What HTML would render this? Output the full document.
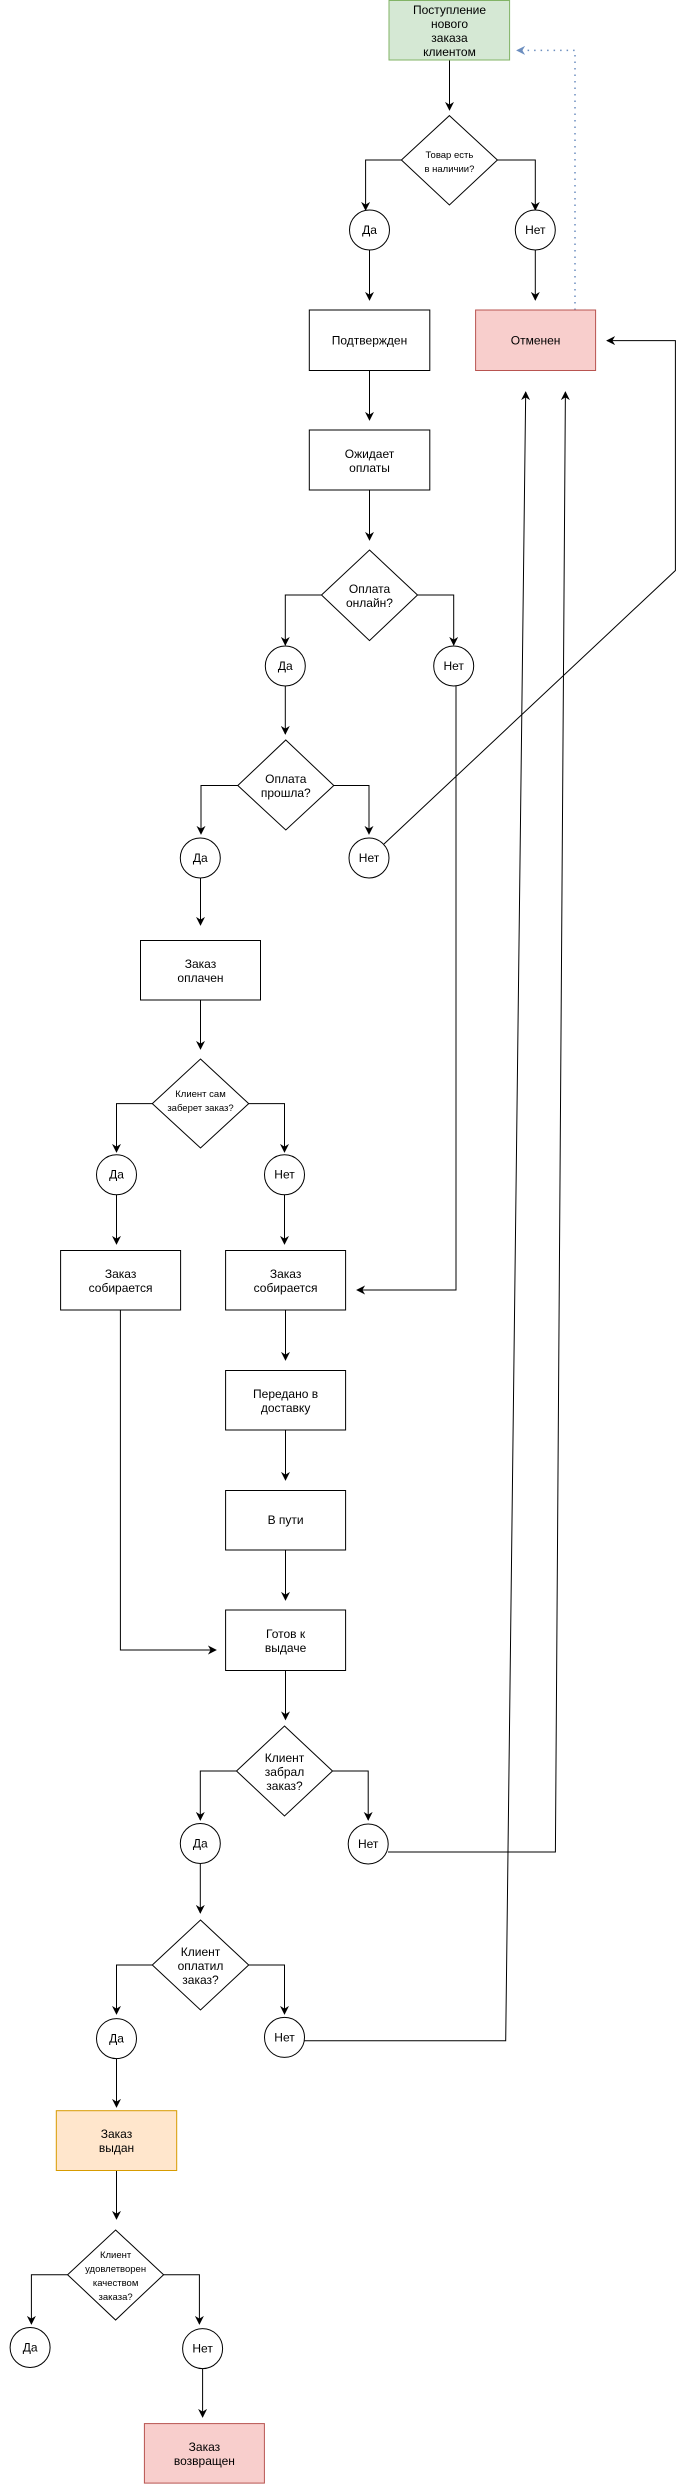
<!DOCTYPE html>
<html><head><meta charset="utf-8"><style>
html,body{margin:0;padding:0;background:#fff}
svg{display:block}
text{font-family:"Liberation Sans",Arial,sans-serif;fill:#000;text-anchor:middle}
</style></head><body>
<svg width="684" height="2484" viewBox="0 0 684 2484" xmlns="http://www.w3.org/2000/svg">
<defs>
<marker id="a" viewBox="0 0 10 10" refX="9" refY="5" markerWidth="9" markerHeight="9" markerUnits="userSpaceOnUse" orient="auto">
<path d="M0,0 L10,5 L0,10 L3,5 Z" fill="#000"/></marker>
<marker id="b" viewBox="0 0 10 10" refX="9" refY="5" markerWidth="9" markerHeight="9" markerUnits="userSpaceOnUse" orient="auto">
<path d="M0,0 L10,5 L0,10 L3,5 Z" fill="#6c8ebf"/></marker>
</defs>
<g fill="none" stroke="#000" stroke-width="1">
<!-- top -->
<path d="M449.5,60 V110" marker-end="url(#a)"/>
<path d="M401.4,160 H365.6 V210" marker-end="url(#a)"/>
<path d="M497.4,160 H535.3 V210" marker-end="url(#a)"/>
<path d="M369.5,250 V300" marker-end="url(#a)"/>
<path d="M535.3,250 V300" marker-end="url(#a)"/>
<path d="M575,310 V50.4 H517" stroke="#6c8ebf" stroke-width="1.5" stroke-dasharray="1.5,5" marker-end="url(#b)"/>
<path d="M369.5,370.5 V420" marker-end="url(#a)"/>
<path d="M369.5,490 V540" marker-end="url(#a)"/>
<path d="M321.5,595 H285.3 V645" marker-end="url(#a)"/>
<path d="M417.5,595 H453.7 V645" marker-end="url(#a)"/>
<path d="M285.3,686 V734" marker-end="url(#a)"/>
<path d="M456,686 V1290 H357" marker-end="url(#a)"/>
<path d="M237.8,785.5 H201 V834" marker-end="url(#a)"/>
<path d="M333.8,785.5 H369 V834" marker-end="url(#a)"/>
<path d="M384,844 L675.4,570.5 V340.6 H607" marker-end="url(#a)"/>
<path d="M200.5,878 V925" marker-end="url(#a)"/>
<path d="M200.5,1000 V1049" marker-end="url(#a)"/>
<path d="M152.3,1103.6 H116.5 V1152" marker-end="url(#a)"/>
<path d="M248.7,1103.6 H284.5 V1152" marker-end="url(#a)"/>
<path d="M116.5,1195 V1244" marker-end="url(#a)"/>
<path d="M284.5,1195 V1244" marker-end="url(#a)"/>
<path d="M120.4,1310 V1650 H216" marker-end="url(#a)"/>
<path d="M285.5,1310 V1360" marker-end="url(#a)"/>
<path d="M285.5,1430 V1480" marker-end="url(#a)"/>
<path d="M285.5,1550 V1600" marker-end="url(#a)"/>
<path d="M285.5,1670.5 V1719.5" marker-end="url(#a)"/>
<path d="M236.5,1771 H200.3 V1820" marker-end="url(#a)"/>
<path d="M332.5,1771 H368.2 V1820" marker-end="url(#a)"/>
<path d="M388,1852 H555.4 L565.4,392" marker-end="url(#a)"/>
<path d="M200.3,1864 V1913" marker-end="url(#a)"/>
<path d="M152.3,1965 H116.5 V2014" marker-end="url(#a)"/>
<path d="M248.7,1965 H284.5 V2014" marker-end="url(#a)"/>
<path d="M304.5,2040.8 H505.7 L525.7,392" marker-end="url(#a)"/>
<path d="M116.5,2058 V2107" marker-end="url(#a)"/>
<path d="M116.5,2170.5 V2219" marker-end="url(#a)"/>
<path d="M67.6,2274.7 H31.4 V2324" marker-end="url(#a)"/>
<path d="M163.6,2274.7 H199.4 V2324" marker-end="url(#a)"/>
<path d="M202.6,2369 V2417" marker-end="url(#a)"/>
</g>
<g stroke-width="1">
<rect x="389" y="0.5" width="120.6" height="59.5" fill="#d5e8d4" stroke="#82b366"/>
<rect x="309.3" y="310" width="120.5" height="60.5" fill="#fff" stroke="#000"/>
<rect x="475.6" y="310" width="120" height="60.5" fill="#f8cecc" stroke="#b85450"/>
<rect x="309.3" y="430" width="120.5" height="60" fill="#fff" stroke="#000"/>
<rect x="140.5" y="940.5" width="120" height="59.5" fill="#fff" stroke="#000"/>
<rect x="60.6" y="1250.5" width="120" height="59.5" fill="#fff" stroke="#000"/>
<rect x="225.6" y="1250.5" width="120" height="59.5" fill="#fff" stroke="#000"/>
<rect x="225.6" y="1370.5" width="120" height="59.5" fill="#fff" stroke="#000"/>
<rect x="225.6" y="1490.5" width="120" height="59.5" fill="#fff" stroke="#000"/>
<rect x="225.6" y="1610" width="120" height="60.5" fill="#fff" stroke="#000"/>
<rect x="56.3" y="2110.7" width="120.4" height="59.8" fill="#ffe6cc" stroke="#d79b00"/>
<rect x="144.4" y="2423.6" width="120" height="59.5" fill="#f8cecc" stroke="#b85450"/>
<g fill="#fff" stroke="#000">
<polygon points="449.4,115.6 497.4,160 449.4,205 401.4,160"/>
<polygon points="369.5,550 417.5,595 369.5,640.6 321.5,595"/>
<polygon points="285.8,740 333.8,785.5 285.8,830 237.8,785.5"/>
<polygon points="200.5,1059 248.7,1103.6 200.5,1148 152.3,1103.6"/>
<polygon points="284.5,1726 332.5,1771 284.5,1816 236.5,1771"/>
<polygon points="200.5,1920 248.7,1965 200.5,2010 152.3,1965"/>
<polygon points="115.6,2230 163.6,2274.7 115.6,2320 67.6,2274.7"/>
<circle cx="369.5" cy="230" r="20"/>
<circle cx="535.3" cy="230" r="20"/>
<circle cx="285.3" cy="666" r="20"/>
<circle cx="453.7" cy="666" r="20"/>
<circle cx="200.3" cy="858" r="20"/>
<circle cx="369" cy="858" r="20"/>
<circle cx="116.5" cy="1174.7" r="20"/>
<circle cx="284.5" cy="1174.7" r="20"/>
<circle cx="200.3" cy="1843.5" r="20"/>
<circle cx="368.2" cy="1844" r="20"/>
<circle cx="116.5" cy="2038.6" r="20"/>
<circle cx="284.5" cy="2037.4" r="20"/>
<circle cx="30.1" cy="2347.5" r="20"/>
<circle cx="202.6" cy="2348.6" r="20"/>
</g>
</g>
<g font-size="12">
<text x="449.5" y="14">Поступление</text><text x="449.5" y="28">нового</text><text x="449.5" y="42">заказа</text><text x="449.5" y="56">клиентом</text>
<text x="369.5" y="344.5">Подтвержден</text>
<text x="535.6" y="344.5">Отменен</text>
<text x="369.5" y="458">Ожидает</text><text x="369.5" y="472">оплаты</text>
<text x="369.5" y="593">Оплата</text><text x="369.5" y="607">онлайн?</text>
<text x="285.8" y="783">Оплата</text><text x="285.8" y="797">прошла?</text>
<text x="200.5" y="968">Заказ</text><text x="200.5" y="982">оплачен</text>
<text x="120.6" y="1278">Заказ</text><text x="120.6" y="1292">собирается</text>
<text x="285.6" y="1278">Заказ</text><text x="285.6" y="1292">собирается</text>
<text x="285.6" y="1398">Передано в</text><text x="285.6" y="1412">доставку</text>
<text x="285.6" y="1524">В пути</text>
<text x="285.6" y="1638">Готов к</text><text x="285.6" y="1652">выдаче</text>
<text x="284.5" y="1762">Клиент</text><text x="284.5" y="1776">забрал</text><text x="284.5" y="1790">заказ?</text>
<text x="200.5" y="1956">Клиент</text><text x="200.5" y="1970">оплатил</text><text x="200.5" y="1984">заказ?</text>
<text x="116.5" y="2138">Заказ</text><text x="116.5" y="2152">выдан</text>
<text x="204.4" y="2451">Заказ</text><text x="204.4" y="2465">возвращен</text>
<text x="369.5" y="234">Да</text><text x="535.3" y="234">Нет</text>
<text x="285.3" y="670">Да</text><text x="453.7" y="670">Нет</text>
<text x="200.3" y="862">Да</text><text x="369" y="862">Нет</text>
<text x="116.5" y="1178.7">Да</text><text x="284.5" y="1178.7">Нет</text>
<text x="200.3" y="1847.5">Да</text><text x="368.2" y="1848">Нет</text>
<text x="116.5" y="2042.6">Да</text><text x="284.5" y="2041.4">Нет</text>
<text x="30.1" y="2351.5">Да</text><text x="202.6" y="2352.6">Нет</text>
</g>
<g font-size="9.5">
<text x="449.4" y="158">Товар есть</text><text x="449.4" y="172">в наличии?</text>
<text x="200.5" y="1097">Клиент сам</text><text x="200.5" y="1111">заберет заказ?</text>
<text x="115.6" y="2258">Клиент</text><text x="115.6" y="2272">удовлетворен</text><text x="115.6" y="2286">качеством</text><text x="115.6" y="2300">заказа?</text>
</g>
</svg>
</body></html>
